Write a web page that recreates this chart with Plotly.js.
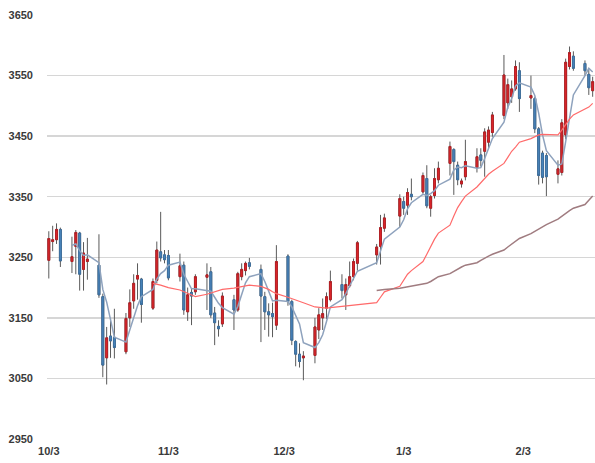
<!DOCTYPE html>
<html>
<head>
<meta charset="utf-8">
<script src="https://cdn.plot.ly/plotly-3.0.1.min.js"></script>
<style>
  html, body { margin: 0; padding: 0; background: #ffffff; }
  #chart { width: 595px; height: 463px; }
</style>
</head>
<body>
<div id="chart"></div>
<script>
// ---- data ----
const dates = ['2017-10-03','2017-10-04','2017-10-05','2017-10-06','2017-10-09','2017-10-10','2017-10-11','2017-10-12','2017-10-13','2017-10-16','2017-10-17','2017-10-18','2017-10-19','2017-10-20','2017-10-23','2017-10-24','2017-10-25','2017-10-26','2017-10-27','2017-10-30','2017-10-31','2017-11-01','2017-11-02','2017-11-03','2017-11-06','2017-11-07','2017-11-08','2017-11-09','2017-11-10','2017-11-13','2017-11-14','2017-11-15','2017-11-16','2017-11-17','2017-11-20','2017-11-21','2017-11-22','2017-11-23','2017-11-24','2017-11-27','2017-11-28','2017-11-29','2017-11-30','2017-12-01','2017-12-04','2017-12-05','2017-12-06','2017-12-07','2017-12-08','2017-12-11','2017-12-12','2017-12-13','2017-12-14','2017-12-15','2017-12-18','2017-12-19','2017-12-20','2017-12-21','2017-12-22','2017-12-27','2017-12-28','2017-12-29','2018-01-02','2018-01-03','2018-01-04','2018-01-05','2018-01-08','2018-01-09','2018-01-10','2018-01-11','2018-01-12','2018-01-15','2018-01-16','2018-01-17','2018-01-18','2018-01-19','2018-01-22','2018-01-23','2018-01-24','2018-01-25','2018-01-26','2018-01-29','2018-01-30','2018-01-31','2018-02-01','2018-02-02','2018-02-05','2018-02-06','2018-02-07','2018-02-08','2018-02-09','2018-02-12','2018-02-13','2018-02-14','2018-02-15','2018-02-16','2018-02-19','2018-02-20','2018-02-21'];

const open  = [3245,3276,3279,3296,3243,3268,3290,3230,3243,3237,3185,3084,3120,3118,3094,3150,3178,3214,3214,3166,3212,3259,3254,3253,3218,3237,3160,3192,3193,3217,3226,3158,3136,3140,3180,3163,3218,3228,3241,3230,3185,3160,3157,3138,3252,3177,3111,3090,3084,3088,3130,3150,3166,3180,3205,3188,3203,3218,3240,3254,3268,3298,3318,3342,3336,3354,3358,3380,3331,3352,3378,3405,3428,3402,3371,3383,3398,3419,3425,3440,3456,3484,3505,3515,3528,3558,3513,3512,3462,3422,3418,3387,3390,3452,3565,3582,3570,3552,3525];
const high  = [3293,3302,3306,3299,3284,3295,3292,3275,3282,3288,3190,3135,3150,3165,3158,3197,3222,3240,3216,3215,3276,3325,3262,3262,3256,3243,3200,3199,3222,3240,3234,3168,3146,3192,3188,3226,3240,3243,3249,3238,3193,3174,3175,3270,3255,3180,3113,3108,3095,3150,3166,3182,3192,3228,3222,3215,3243,3248,3277,3272,3320,3322,3354,3350,3364,3380,3390,3402,3353,3397,3408,3441,3430,3408,3380,3444,3430,3430,3463,3466,3490,3584,3545,3542,3575,3572,3550,3515,3465,3426,3422,3410,3478,3578,3598,3590,3575,3560,3548];
const low   = [3215,3260,3272,3234,3224,3222,3195,3195,3213,3183,3052,3040,3084,3083,3090,3135,3165,3180,3142,3163,3207,3243,3240,3212,3210,3155,3145,3138,3188,3163,3150,3105,3119,3135,3130,3160,3212,3220,3230,3110,3130,3119,3118,3130,3170,3105,3070,3068,3047,3075,3115,3130,3148,3177,3182,3163,3200,3212,3228,3238,3238,3292,3300,3320,3320,3344,3355,3331,3317,3347,3372,3385,3353,3369,3365,3377,3390,3400,3383,3430,3449,3478,3495,3505,3525,3490,3495,3455,3370,3372,3351,3372,3385,3445,3560,3558,3550,3518,3515];
const close = [3281,3279,3296,3244,3251,3291,3222,3257,3247,3188,3072,3117,3112,3101,3149,3175,3207,3220,3172,3210,3262,3249,3246,3216,3236,3163,3188,3186,3218,3221,3155,3142,3132,3186,3163,3223,3230,3240,3235,3186,3160,3155,3152,3243,3177,3113,3090,3078,3087,3135,3155,3157,3185,3210,3195,3205,3218,3243,3274,3267,3299,3315,3347,3331,3357,3350,3385,3335,3350,3380,3397,3433,3408,3378,3376,3408,3416,3410,3457,3460,3485,3551,3535,3528,3565,3512,3517,3462,3385,3382,3383,3396,3472,3572,3588,3562,3558,3530,3540];

// moving averages (5-day from 10/9, 20-day from 10/30, 60-day from 12/27)
const ma5 = [3270,3272,3261,3253,3254,3241,3197,3176,3147,3118,3110,3131,3149,3170,3185,3197,3214,3223,3228,3237,3242,3222,3210,3198,3198,3195,3194,3184,3174,3167,3156,3169,3187,3208,3218,3223,3210,3195,3178,3179,3177,3168,3155,3140,3109,3101,3109,3122,3144,3168,3180,3190,3203,3214,3227,3241,3260,3280,3300,3312,3330,3340,3354,3352,3355,3360,3369,3379,3394,3399,3398,3401,3397,3398,3413,3430,3446,3473,3498,3512,3533,3538,3531,3517,3488,3452,3426,3402,3404,3441,3482,3518,3550,3562,3556];
const ma20 = [3207,3206,3204,3202,3200,3196,3193,3190,3187,3185,3189,3191,3193,3195,3197,3199,3200,3202,3203,3204,3202,3200,3197,3193,3190,3184,3182,3180,3178,3175,3168,3167,3166,3166,3167,3169,3170,3171,3171,3172,3175,3184,3193,3202,3212,3222,3228,3243,3255,3268,3280,3290,3303,3318,3332,3342,3351,3366,3373,3380,3387,3392,3405,3415,3425,3432,3440,3446,3449,3452,3453,3453,3452,3460,3470,3478,3485,3494,3498,3504];
const ma60 = [3195,3196,3197,3199,3200,3201,3202,3205,3207,3210,3214,3218,3223,3227,3231,3234,3237,3241,3245,3249,3252,3255,3262,3267,3272,3277,3281,3289,3293,3296,3300,3304,3313,3318,3322,3327,3331,3337,3344,3351];

const yTicks = [2950,3050,3150,3250,3350,3450,3550,3650];
const xTickDates = ['2017-10-03','2017-11-03','2017-12-03','2018-01-03','2018-02-03'];
const xTickText = ['10/3','11/3','12/3','1/3','2/3'];

// ---- traces ----
const bodyHigh = open.map((o, i) => Math.max(o, close[i]));
const bodyLow  = open.map((o, i) => Math.min(o, close[i]));

const wicks = {
  type: 'candlestick', x: dates, open: open, high: high, low: low, close: close,
  increasing: { line: { color: '#5a5a5a', width: 1 }, fillcolor: '#d9262a' },
  decreasing: { line: { color: '#5a5a5a', width: 1 }, fillcolor: '#4a84ba' },
  whiskerwidth: 0, hoverinfo: 'skip', showlegend: false
};
const bodies = {
  type: 'candlestick', x: dates, open: open, high: bodyHigh, low: bodyLow, close: close,
  increasing: { line: { color: '#b52025', width: 1 }, fillcolor: '#e0262b' },
  decreasing: { line: { color: '#3d70a0', width: 1 }, fillcolor: '#4a86bd' },
  whiskerwidth: 0, hoverinfo: 'skip', showlegend: false
};
const line5 = { type: 'scatter', mode: 'lines', x: dates.slice(4), y: ma5,
  line: { color: '#8ea2bd', width: 1.5 }, hoverinfo: 'skip', showlegend: false };
const line20 = { type: 'scatter', mode: 'lines', x: dates.slice(19), y: ma20,
  line: { color: '#ff6a6a', width: 1.2 }, hoverinfo: 'skip', showlegend: false };
const line60 = { type: 'scatter', mode: 'lines', x: dates.slice(59), y: ma60,
  line: { color: '#a07c80', width: 1.5 }, hoverinfo: 'skip', showlegend: false };

const tickFont = { family: 'Liberation Sans, Arial, sans-serif', size: 11, color: '#3a3a3a', weight: 'bold' };

const layout = {
  width: 595, height: 463,
  margin: { l: 46.5, r: 0, t: 15, b: 24 },
  paper_bgcolor: '#ffffff', plot_bgcolor: '#ffffff',
  showlegend: false,
  xaxis: {
    type: 'date',
    range: ['2017-10-02 12:45', '2018-02-21 14:30'],
    rangeslider: { visible: false },
    showgrid: false, zeroline: false, showline: false, ticks: '',
    tickmode: 'array', tickvals: xTickDates, ticktext: xTickText,
    tickfont: tickFont, ticklabelstandoff: 4
  },
  yaxis: {
    range: [2950, 3650],
    tickmode: 'array', tickvals: yTicks,
    showgrid: true, gridcolor: '#d6d6d6', gridwidth: 1.3,
    zeroline: false, showline: false, ticks: '',
    tickfont: tickFont, ticklabelstandoff: 13
  }
};

Plotly.newPlot('chart', [wicks, bodies, line5, line20, line60], layout, { staticPlot: true, displayModeBar: false });
</script>
</body>
</html>
